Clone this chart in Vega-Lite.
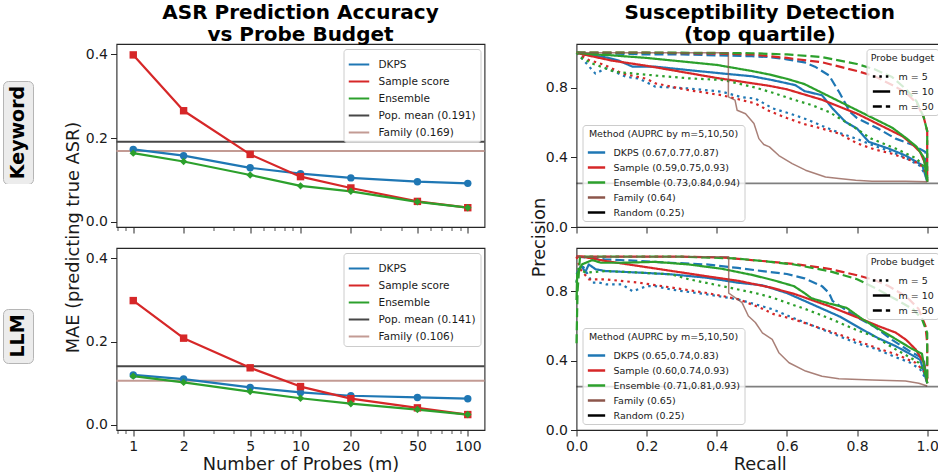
{
  "$schema": "https://vega.github.io/schema/vega-lite/v6.json",
  "background": "white",
  "padding": {"left": 2, "top": 2, "right": 0, "bottom": 0},
  "autosize": {"type": "pad"},
  "config": {
    "font": "DejaVu Sans",
    "view": {"stroke": "#262626", "strokeWidth": 1.1},
    "axis": {"domain": false, "grid": false, "ticks": true, "tickColor": "#262626", "tickSize": 6, "tickWidth": 1, "labelFont": "DejaVu Sans", "labelFontSize": 14, "labelColor": "#1a1a1a", "labelPadding": 3, "labelFlush": false, "labelOverlap": false, "titleFont": "DejaVu Sans", "titleFontSize": 17.8, "titleFontWeight": "normal", "titleColor": "#1a1a1a"},
    "legend": {"labelFont": "DejaVu Sans", "titleFont": "DejaVu Sans", "labelColor": "#1a1a1a", "titleColor": "#1a1a1a", "titleFontWeight": "normal", "strokeColor": "#cccccc", "fillColor": "rgba(255,255,255,0.8)", "cornerRadius": 3, "symbolOpacity": 1, "labelLimit": 400},
    "title": {"font": "DejaVu Sans", "fontSize": 20, "fontWeight": "bold", "color": "#000000", "lineHeight": 22, "offset": -1, "anchor": "middle"},
    "line": {"strokeCap": "butt", "strokeJoin": "round"}
  },
  "datasets": {
    "kwMAE": [
      {"series": "DKPS", "m": [1, 2, 5, 10, 20, 50, 100], "mae": [0.173, 0.158, 0.129, 0.115, 0.105, 0.096, 0.092]},
      {"series": "Sample score", "m": [1, 2, 5, 10, 20, 50, 100], "mae": [0.398, 0.265, 0.161, 0.108, 0.081, 0.049, 0.034]},
      {"series": "Ensemble", "m": [1, 2, 5, 10, 20, 50, 100], "mae": [0.164, 0.144, 0.112, 0.086, 0.073, 0.048, 0.034]}
    ],
    "kwRef": [
      {"series": "Pop. mean (0.191)", "mae": 0.191},
      {"series": "Family (0.169)", "mae": 0.169}
    ],
    "llmMAE": [
      {"series": "DKPS", "m": [1, 2, 5, 10, 20, 50, 100], "mae": [0.12, 0.11, 0.09, 0.078, 0.07, 0.066, 0.063]},
      {"series": "Sample score", "m": [1, 2, 5, 10, 20, 50, 100], "mae": [0.298, 0.208, 0.137, 0.092, 0.063, 0.041, 0.025]},
      {"series": "Ensemble", "m": [1, 2, 5, 10, 20, 50, 100], "mae": [0.117, 0.102, 0.08, 0.064, 0.051, 0.037, 0.025]}
    ],
    "llmRef": [
      {"series": "Pop. mean (0.141)", "mae": 0.141},
      {"series": "Family (0.106)", "mae": 0.106}
    ],
    "kwPR": [
      {"method": "DKPS (0.67,0.77,0.87)", "budget": "m = 5", "r": [0, 0.016, 0.045, 0.054, 0.083, 0.11, 0.14, 0.178, 0.225, 0.32, 0.415, 0.47, 0.51, 0.56, 0.61, 0.66, 0.7, 0.75, 0.8, 0.85, 0.9, 0.94, 0.98, 1.0], "p": [1, 0.967, 0.9, 0.88, 0.91, 0.89, 0.862, 0.852, 0.805, 0.795, 0.776, 0.745, 0.737, 0.68, 0.65, 0.615, 0.58, 0.54, 0.505, 0.465, 0.43, 0.395, 0.35, 0.28]},
      {"method": "DKPS (0.67,0.77,0.87)", "budget": "m = 10", "r": [0, 0.02, 0.08, 0.12, 0.16, 0.225, 0.32, 0.415, 0.5, 0.558, 0.624, 0.65, 0.7, 0.73, 0.767, 0.8, 0.834, 0.89, 0.938, 0.986, 1.0], "p": [1, 0.99, 0.975, 0.955, 0.92, 0.92, 0.9, 0.881, 0.865, 0.843, 0.814, 0.78, 0.756, 0.68, 0.603, 0.565, 0.488, 0.45, 0.41, 0.354, 0.26]},
      {"method": "DKPS (0.67,0.77,0.87)", "budget": "m = 50", "r": [0, 0.1, 0.2, 0.3, 0.4, 0.5, 0.55, 0.6, 0.65, 0.68, 0.72, 0.75, 0.78, 0.8, 0.86, 0.91, 0.96, 0.995, 1.0], "p": [1, 0.995, 0.99, 0.99, 0.985, 0.98, 0.975, 0.962, 0.945, 0.92, 0.87, 0.77, 0.66, 0.625, 0.565, 0.507, 0.47, 0.43, 0.27]},
      {"method": "Sample (0.59,0.75,0.93)", "budget": "m = 5", "r": [0, 0.035, 0.08, 0.13, 0.2, 0.225, 0.32, 0.415, 0.51, 0.55, 0.6, 0.65, 0.7, 0.75, 0.8, 0.85, 0.9, 0.95, 0.98, 1.0], "p": [1, 0.958, 0.93, 0.881, 0.85, 0.824, 0.785, 0.756, 0.709, 0.665, 0.625, 0.59, 0.565, 0.535, 0.48, 0.445, 0.42, 0.385, 0.36, 0.3]},
      {"method": "Sample (0.59,0.75,0.93)", "budget": "m = 10", "r": [0, 0.02, 0.1, 0.2, 0.3, 0.4, 0.5, 0.55, 0.6, 0.65, 0.7, 0.75, 0.8, 0.85, 0.9, 0.93, 0.96, 0.98, 0.995, 1.0], "p": [1, 0.99, 0.955, 0.925, 0.89, 0.855, 0.825, 0.81, 0.79, 0.76, 0.73, 0.69, 0.65, 0.6, 0.55, 0.52, 0.47, 0.43, 0.36, 0.27]},
      {"method": "Sample (0.59,0.75,0.93)", "budget": "m = 50", "r": [0, 0.2, 0.4, 0.5, 0.6, 0.7, 0.75, 0.8, 0.85, 0.9, 0.94, 0.97, 0.99, 1.0, 1.0], "p": [1, 1.0, 0.995, 0.99, 0.97, 0.945, 0.92, 0.895, 0.865, 0.815, 0.77, 0.71, 0.63, 0.55, 0.26]},
      {"method": "Ensemble (0.73,0.84,0.94)", "budget": "m = 5", "r": [0, 0.016, 0.045, 0.11, 0.22, 0.32, 0.42, 0.51, 0.56, 0.62, 0.67, 0.72, 0.79, 0.84, 0.91, 0.97, 0.995, 1.0], "p": [1, 0.967, 0.938, 0.89, 0.87, 0.853, 0.843, 0.8, 0.77, 0.73, 0.7, 0.66, 0.575, 0.507, 0.45, 0.393, 0.335, 0.28]},
      {"method": "Ensemble (0.73,0.84,0.94)", "budget": "m = 10", "r": [0, 0.05, 0.1, 0.2, 0.3, 0.4, 0.5, 0.55, 0.6, 0.65, 0.7, 0.75, 0.8, 0.85, 0.9, 0.94, 0.97, 0.99, 1.0], "p": [1, 0.99, 0.985, 0.97, 0.95, 0.93, 0.895, 0.875, 0.85, 0.82, 0.77, 0.72, 0.67, 0.62, 0.57, 0.51, 0.46, 0.4, 0.26]},
      {"method": "Ensemble (0.73,0.84,0.94)", "budget": "m = 50", "r": [0, 0.3, 0.5, 0.6, 0.7, 0.8, 0.85, 0.9, 0.94, 0.97, 0.99, 1.0, 1.0], "p": [1, 1.0, 0.997, 0.99, 0.975, 0.935, 0.905, 0.86, 0.79, 0.72, 0.63, 0.55, 0.26]}
    ],
    "kwFam": [
      {"method": "Family (0.64)", "r": [0, 0.433, 0.433, 0.452, 0.458, 0.482, 0.506, 0.52, 0.534, 0.55, 0.577, 0.615, 0.653, 0.71, 0.748, 0.796, 0.843, 0.938, 1.0], "p": [1, 1, 0.747, 0.728, 0.67, 0.65, 0.594, 0.507, 0.473, 0.46, 0.41, 0.364, 0.326, 0.287, 0.278, 0.268, 0.262, 0.262, 0.259]}
    ],
    "llmPR": [
      {"method": "DKPS (0.65,0.74,0.83)", "budget": "m = 5", "r": [0, 0.015, 0.03, 0.045, 0.065, 0.085, 0.13, 0.16, 0.2, 0.225, 0.27, 0.37, 0.46, 0.56, 0.62, 0.72, 0.8, 0.85, 0.91, 0.95, 0.98, 1.0], "p": [0.9, 0.955, 0.905, 0.85, 0.85, 0.84, 0.84, 0.8, 0.83, 0.83, 0.81, 0.783, 0.754, 0.696, 0.645, 0.565, 0.5, 0.47, 0.42, 0.39, 0.35, 0.28]},
      {"method": "DKPS (0.65,0.74,0.83)", "budget": "m = 10", "r": [0, 0.005, 0.015, 0.025, 0.035, 0.055, 0.083, 0.18, 0.27, 0.37, 0.46, 0.53, 0.6, 0.65, 0.7, 0.75, 0.815, 0.86, 0.91, 0.95, 0.98, 1.0], "p": [0.85, 0.92, 0.945, 0.91, 0.955, 0.927, 0.917, 0.908, 0.898, 0.879, 0.85, 0.835, 0.79, 0.745, 0.7, 0.655, 0.58, 0.53, 0.484, 0.44, 0.405, 0.27]},
      {"method": "DKPS (0.65,0.74,0.83)", "budget": "m = 50", "r": [0, 0.08, 0.18, 0.27, 0.37, 0.46, 0.53, 0.6, 0.65, 0.7, 0.72, 0.73, 0.77, 0.8, 0.85, 0.9, 0.95, 0.99, 1.0], "p": [1, 0.985, 0.975, 0.965, 0.955, 0.935, 0.917, 0.9, 0.875, 0.83, 0.79, 0.745, 0.69, 0.65, 0.595, 0.52, 0.455, 0.41, 0.27]},
      {"method": "Sample (0.60,0.74,0.93)", "budget": "m = 5", "r": [0, 0.01, 0.035, 0.083, 0.178, 0.273, 0.368, 0.463, 0.53, 0.56, 0.62, 0.72, 0.815, 0.86, 0.91, 0.967, 0.995, 1.0], "p": [1, 0.93, 0.869, 0.869, 0.85, 0.821, 0.792, 0.754, 0.7, 0.67, 0.638, 0.571, 0.504, 0.47, 0.437, 0.388, 0.33, 0.3]},
      {"method": "Sample (0.60,0.74,0.93)", "budget": "m = 10", "r": [0, 0.016, 0.083, 0.178, 0.273, 0.368, 0.463, 0.558, 0.624, 0.72, 0.815, 0.86, 0.91, 0.94, 0.967, 0.99, 1.0], "p": [1, 1, 0.975, 0.946, 0.917, 0.888, 0.86, 0.82, 0.783, 0.715, 0.638, 0.6, 0.562, 0.52, 0.465, 0.39, 0.27]},
      {"method": "Sample (0.60,0.74,0.93)", "budget": "m = 50", "r": [0, 0.3, 0.42, 0.53, 0.62, 0.72, 0.8, 0.85, 0.89, 0.94, 0.975, 0.995, 1.0, 1.0], "p": [1, 1.0, 0.995, 0.975, 0.958, 0.93, 0.893, 0.865, 0.83, 0.77, 0.7, 0.6, 0.5, 0.27]},
      {"method": "Ensemble (0.71,0.81,0.93)", "budget": "m = 5", "r": [0, 0.005, 0.026, 0.083, 0.18, 0.27, 0.32, 0.415, 0.51, 0.56, 0.62, 0.65, 0.72, 0.8, 0.85, 0.91, 0.95, 0.976, 1.0], "p": [0.85, 0.93, 0.908, 0.917, 0.908, 0.898, 0.87, 0.83, 0.79, 0.763, 0.72, 0.7, 0.645, 0.575, 0.54, 0.465, 0.42, 0.388, 0.3]},
      {"method": "Ensemble (0.71,0.81,0.93)", "budget": "m = 10", "r": [0, 0.002, 0.016, 0.045, 0.07, 0.13, 0.225, 0.32, 0.415, 0.5, 0.56, 0.62, 0.65, 0.67, 0.72, 0.77, 0.815, 0.86, 0.91, 0.955, 0.985, 1.0], "p": [0.75, 0.9, 0.956, 0.98, 0.965, 0.965, 0.97, 0.955, 0.93, 0.895, 0.865, 0.83, 0.79, 0.76, 0.73, 0.705, 0.64, 0.585, 0.525, 0.47, 0.44, 0.27]},
      {"method": "Ensemble (0.71,0.81,0.93)", "budget": "m = 50", "r": [0, 0.003, 0.01, 0.3, 0.45, 0.53, 0.62, 0.72, 0.8, 0.86, 0.91, 0.96, 0.985, 1.0, 1.0], "p": [0.5, 0.8, 1.0, 1.0, 0.99, 0.975, 0.955, 0.917, 0.87, 0.81, 0.754, 0.696, 0.64, 0.56, 0.27]}
    ],
    "llmFam": [
      {"method": "Family (0.65)", "r": [0, 0.434, 0.434, 0.453, 0.472, 0.49, 0.51, 0.53, 0.558, 0.577, 0.606, 0.653, 0.7, 0.748, 0.843, 0.938, 0.976, 1.0], "p": [1, 1, 0.79, 0.763, 0.735, 0.658, 0.62, 0.56, 0.523, 0.446, 0.388, 0.34, 0.31, 0.296, 0.288, 0.283, 0.27, 0.254]}
    ],
    "randomRef": [
      {"method": "Random (0.25)", "p": 0.25}
    ],
    "kwLabel": [{"label": "Keyword"}],
    "llmLabel": [{"label": "LLM"}],
    "empty": []
  },
  "spacing": 29.5,
  "resolve": {"scale": {"color": "independent", "strokeDash": "independent", "shape": "independent"}},
  "hconcat": [
    {
      "bounds": "flush",
      "spacing": 0,
      "vconcat": [
        {"width": 30, "height": 37, "view": {"fill": "white", "stroke": null}, "data": {"name": "empty"}, "mark": "point"},
        {
          "width": 30, "height": 103,
          "view": {"fill": "#ececec", "stroke": "#b5b5b5", "cornerRadius": 5, "strokeWidth": 1},
          "data": {"name": "kwLabel"},
          "mark": {"type": "text", "angle": 270, "fontWeight": "bold", "fontSize": 19, "font": "DejaVu Sans", "color": "#000000"},
          "encoding": {"text": {"field": "label", "type": "nominal"}}
        },
        {"width": 30, "height": 125, "view": {"fill": "white", "stroke": null}, "data": {"name": "empty"}, "mark": "point"},
        {
          "width": 30, "height": 54,
          "view": {"fill": "#ececec", "stroke": "#b5b5b5", "cornerRadius": 5, "strokeWidth": 1},
          "data": {"name": "llmLabel"},
          "mark": {"type": "text", "angle": 270, "fontWeight": "bold", "fontSize": 19, "font": "DejaVu Sans", "color": "#000000"},
          "encoding": {"text": {"field": "label", "type": "nominal"}}
        }
      ]
    },
    {
      "bounds": "flush",
      "columns": 2,
      "spacing": {"row": 21, "column": 92},
      "resolve": {"scale": {"color": "independent", "strokeDash": "independent", "shape": "independent"}},
      "concat": [
        {
          "width": 368, "height": 183,
          "title": {"text": ["ASR Prediction Accuracy", "vs Probe Budget"]},
          "resolve": {"axis": {"x": "independent"}},
          "layer": [
            {
              "data": {"name": "kwRef"},
              "mark": {"type": "rule", "strokeWidth": 2},
              "encoding": {
                "y": {"field": "mae", "type": "quantitative", "scale": {"domain": [-0.012, 0.424], "nice": false, "zero": false}, "axis": {"values": [0, 0.2, 0.4], "format": ".1f", "title": "MAE (predicting true ASR)", "titleX": -38, "titleY": 193, "titleBaseline": "alphabetic"}},
                "color": {"field": "series", "type": "nominal",
                  "scale": {"domain": ["DKPS", "Sample score", "Ensemble", "Pop. mean (0.191)", "Family (0.169)"], "range": ["#1f77b4", "#d62728", "#2ca02c", "#474747", "#c39b94"]},
                  "legend": {"orient": "top-right", "offset": 4.5, "title": null, "symbolType": "stroke", "symbolSize": 420, "symbolStrokeWidth": 2, "labelFontSize": 10.5, "labelOffset": 8, "rowPadding": 0, "padding": 4}}
              }
            },
            {
              "data": {"name": "kwMAE"},
              "transform": [{"flatten": ["m", "mae"]}],
              "mark": {"type": "line", "strokeWidth": 2.2},
              "encoding": {
                "x": {"field": "m", "type": "quantitative", "scale": {"type": "log", "domain": [0.794, 125.9], "nice": false}, "axis": {"orient": "bottom", "values": [1, 2, 5, 10, 20, 50, 100], "format": "d", "labels": false, "title": null}},
                "y": {"field": "mae", "type": "quantitative"},
                "color": {"field": "series", "type": "nominal"}
              }
            },
            {
              "data": {"name": "kwMAE"},
              "transform": [{"flatten": ["m", "mae"]}],
              "mark": {"type": "point", "filled": true, "opacity": 1, "size": 55},
              "encoding": {
                "x": {"field": "m", "type": "quantitative", "axis": {"orient": "bottom", "values": [0.8, 0.9, 3, 4, 6, 7, 8, 9, 30, 40, 60, 70, 80, 90], "labels": false, "tickSize": 3.5, "tickWidth": 0.8, "title": null}},
                "y": {"field": "mae", "type": "quantitative"},
                "color": {"field": "series", "type": "nominal"},
                "shape": {"field": "series", "type": "nominal", "scale": {"domain": ["DKPS", "Sample score", "Ensemble"], "range": ["circle", "square", "diamond"]}, "legend": null}
              }
            }
          ]
        },
        {
          "width": 366.5, "height": 183,
          "title": {"text": ["Susceptibility Detection", "(top quartile)"]},
          "layer": [
            {
              "data": {"name": "kwPR"},
              "transform": [{"flatten": ["r", "p"]}],
              "mark": {"type": "line", "strokeWidth": 2.2},
              "encoding": {
                "x": {"field": "r", "type": "quantitative", "scale": {"domain": [0, 1.045], "nice": false, "zero": false}, "axis": {"values": [0, 0.2, 0.4, 0.6, 0.8, 1.0], "format": ".1f", "labels": false, "title": null}},
                "y": {"field": "p", "type": "quantitative", "scale": {"domain": [0, 1.05], "nice": false}, "axis": {"values": [0, 0.2, 0.4, 0.6, 0.8, 1.0], "format": ".1f", "title": "Precision", "titleX": -32, "titleY": 193, "titleBaseline": "alphabetic"}},
                "color": {"field": "method", "type": "nominal",
                  "scale": {"domain": ["DKPS (0.67,0.77,0.87)", "Sample (0.59,0.75,0.93)", "Ensemble (0.73,0.84,0.94)", "Family (0.64)", "Random (0.25)"], "range": ["#1f77b4", "#d62728", "#2ca02c", "#8c564b", "#000000"]},
                  "legend": {"orient": "bottom-left", "offset": 6, "title": "Method (AUPRC by m=5,10,50)", "titleAnchor": "middle", "titleFontSize": 9.5, "titlePadding": 4, "symbolType": "stroke", "symbolSize": 300, "symbolStrokeWidth": 2.5, "labelFontSize": 9.5, "labelOffset": 7, "rowPadding": 0, "padding": 4}},
                "strokeDash": {"field": "budget", "type": "nominal",
                  "scale": {"domain": ["m = 5", "m = 10", "m = 50"], "range": [[2.5, 4], [1, 0], [9, 4]]},
                  "legend": {"orient": "top-right", "offset": 5, "title": "Probe budget", "titleAnchor": "middle", "titleFontSize": 9.5, "titlePadding": 4, "symbolType": "stroke", "symbolSize": 300, "symbolStrokeWidth": 2.5, "symbolStrokeColor": "#000000", "labelFontSize": 9.5, "labelOffset": 7, "rowPadding": 0, "padding": 4}},
                "order": {"value": null}
              }
            },
            {
              "data": {"name": "kwFam"},
              "transform": [{"flatten": ["r", "p"]}],
              "mark": {"type": "line", "strokeWidth": 1.5, "opacity": 0.75},
              "encoding": {
                "x": {"field": "r", "type": "quantitative"},
                "y": {"field": "p", "type": "quantitative"},
                "color": {"field": "method", "type": "nominal"},
                "order": {"value": null}
              }
            },
            {
              "data": {"name": "randomRef"},
              "mark": {"type": "rule", "strokeWidth": 1.8, "opacity": 0.5},
              "encoding": {
                "y": {"field": "p", "type": "quantitative"},
                "color": {"field": "method", "type": "nominal"}
              }
            }
          ]
        },
        {
          "width": 368, "height": 182,
          "resolve": {"axis": {"x": "independent"}},
          "layer": [
            {
              "data": {"name": "llmRef"},
              "mark": {"type": "rule", "strokeWidth": 2},
              "encoding": {
                "y": {"field": "mae", "type": "quantitative", "scale": {"domain": [-0.012, 0.424], "nice": false, "zero": false}, "axis": {"values": [0, 0.2, 0.4], "format": ".1f", "title": null}},
                "color": {"field": "series", "type": "nominal",
                  "scale": {"domain": ["DKPS", "Sample score", "Ensemble", "Pop. mean (0.141)", "Family (0.106)"], "range": ["#1f77b4", "#d62728", "#2ca02c", "#474747", "#c39b94"]},
                  "legend": {"orient": "top-right", "offset": 4.5, "title": null, "symbolType": "stroke", "symbolSize": 420, "symbolStrokeWidth": 2, "labelFontSize": 10.5, "labelOffset": 8, "rowPadding": 0, "padding": 4}}
              }
            },
            {
              "data": {"name": "llmMAE"},
              "transform": [{"flatten": ["m", "mae"]}],
              "mark": {"type": "line", "strokeWidth": 2.2},
              "encoding": {
                "x": {"field": "m", "type": "quantitative", "scale": {"type": "log", "domain": [0.794, 125.9], "nice": false}, "axis": {"orient": "bottom", "values": [1, 2, 5, 10, 20, 50, 100], "format": "d", "title": "Number of Probes (m)", "titleY": 39.5, "titleBaseline": "alphabetic"}},
                "y": {"field": "mae", "type": "quantitative"},
                "color": {"field": "series", "type": "nominal"}
              }
            },
            {
              "data": {"name": "llmMAE"},
              "transform": [{"flatten": ["m", "mae"]}],
              "mark": {"type": "point", "filled": true, "opacity": 1, "size": 55},
              "encoding": {
                "x": {"field": "m", "type": "quantitative", "axis": {"orient": "bottom", "values": [0.8, 0.9, 3, 4, 6, 7, 8, 9, 30, 40, 60, 70, 80, 90], "labels": false, "tickSize": 3.5, "tickWidth": 0.8, "title": null}},
                "y": {"field": "mae", "type": "quantitative"},
                "color": {"field": "series", "type": "nominal"},
                "shape": {"field": "series", "type": "nominal", "scale": {"domain": ["DKPS", "Sample score", "Ensemble"], "range": ["circle", "square", "diamond"]}, "legend": null}
              }
            }
          ]
        },
        {
          "width": 366.5, "height": 182,
          "layer": [
            {
              "data": {"name": "llmPR"},
              "transform": [{"flatten": ["r", "p"]}],
              "mark": {"type": "line", "strokeWidth": 2.2},
              "encoding": {
                "x": {"field": "r", "type": "quantitative", "scale": {"domain": [0, 1.045], "nice": false, "zero": false}, "axis": {"values": [0, 0.2, 0.4, 0.6, 0.8, 1.0], "format": ".1f", "title": "Recall", "titleY": 39.5, "titleBaseline": "alphabetic"}},
                "y": {"field": "p", "type": "quantitative", "scale": {"domain": [0, 1.05], "nice": false}, "axis": {"values": [0, 0.2, 0.4, 0.6, 0.8, 1.0], "format": ".1f", "title": null}},
                "color": {"field": "method", "type": "nominal",
                  "scale": {"domain": ["DKPS (0.65,0.74,0.83)", "Sample (0.60,0.74,0.93)", "Ensemble (0.71,0.81,0.93)", "Family (0.65)", "Random (0.25)"], "range": ["#1f77b4", "#d62728", "#2ca02c", "#8c564b", "#000000"]},
                  "legend": {"orient": "bottom-left", "offset": 6, "title": "Method (AUPRC by m=5,10,50)", "titleAnchor": "middle", "titleFontSize": 9.5, "titlePadding": 4, "symbolType": "stroke", "symbolSize": 300, "symbolStrokeWidth": 2.5, "labelFontSize": 9.5, "labelOffset": 7, "rowPadding": 0, "padding": 4}},
                "strokeDash": {"field": "budget", "type": "nominal",
                  "scale": {"domain": ["m = 5", "m = 10", "m = 50"], "range": [[2.5, 4], [1, 0], [9, 4]]},
                  "legend": {"orient": "top-right", "offset": 5, "title": "Probe budget", "titleAnchor": "middle", "titleFontSize": 9.5, "titlePadding": 4, "symbolType": "stroke", "symbolSize": 300, "symbolStrokeWidth": 2.5, "symbolStrokeColor": "#000000", "labelFontSize": 9.5, "labelOffset": 7, "rowPadding": 0, "padding": 4}},
                "order": {"value": null}
              }
            },
            {
              "data": {"name": "llmFam"},
              "transform": [{"flatten": ["r", "p"]}],
              "mark": {"type": "line", "strokeWidth": 1.5, "opacity": 0.75},
              "encoding": {
                "x": {"field": "r", "type": "quantitative"},
                "y": {"field": "p", "type": "quantitative"},
                "color": {"field": "method", "type": "nominal"},
                "order": {"value": null}
              }
            },
            {
              "data": {"name": "randomRef"},
              "mark": {"type": "rule", "strokeWidth": 1.8, "opacity": 0.5},
              "encoding": {
                "y": {"field": "p", "type": "quantitative"},
                "color": {"field": "method", "type": "nominal"}
              }
            }
          ]
        }
      ]
    }
  ]
}
